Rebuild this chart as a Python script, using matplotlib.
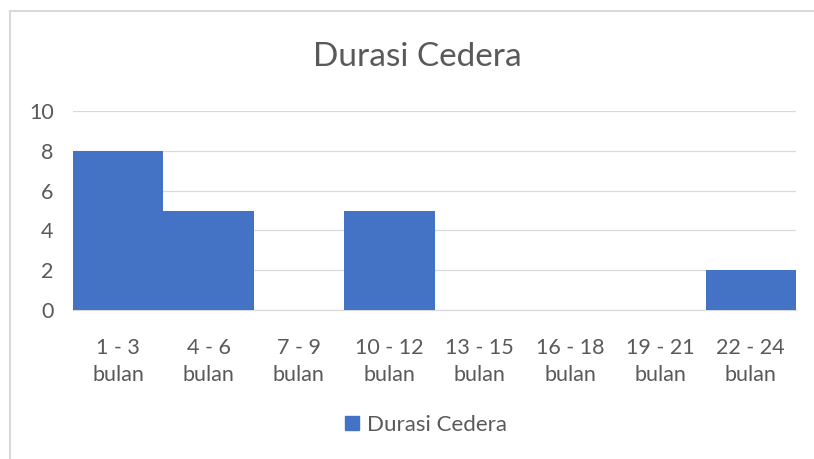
import numpy as np
import matplotlib.pyplot as plt
from matplotlib.patches import Rectangle
from matplotlib.lines import Line2D

plt.rcParams['font.family'] = ['Lato', 'DejaVu Sans']

categories = ['1 - 3\nbulan', '4 - 6\nbulan', '7 - 9\nbulan', '10 - 12\nbulan',
              '13 - 15\nbulan', '16 - 18\nbulan', '19 - 21\nbulan', '22 - 24\nbulan']
values = [8, 5, 0, 5, 0, 0, 0, 2]
series_name = 'Durasi Cedera'

grey = '#595959'
bar_color = '#4472C4'

fig = plt.figure(figsize=(8.14, 4.59), dpi=100)
ax = fig.add_axes([73/814, 1 - 310/459, 723/814, 199/459])

x = np.arange(len(categories))
ax.bar(x, values, width=1.0, color=bar_color, label=series_name, zorder=3)

ax.set_xlim(-0.5, len(categories) - 0.5)
ax.set_ylim(0, 10)
ax.set_yticks(range(0, 11, 2))
ax.set_xticks(x)
ax.set_xticklabels(categories, linespacing=1.45)
ax.tick_params(axis='both', length=0, colors=grey, labelsize=15.5)
ax.tick_params(axis='x', pad=20)
ax.tick_params(axis='y', pad=14)
for lbl in ax.get_yticklabels():
    lbl.set_horizontalalignment('right')
ax.grid(axis='y', color='#D9D9D9', linewidth=0.9, zorder=0)
for s in ['top', 'right', 'left']:
    ax.spines[s].set_visible(False)
ax.spines['bottom'].set_color('#D9D9D9')
ax.spines['bottom'].set_linewidth(0.9)

fig.text(417/814, 1 - 57/459, 'Durasi Cedera', ha='center', va='center',
         fontsize=24, color=grey)

fig.legend(handles=[Rectangle((0, 0), 1, 1, color=bar_color)], labels=[series_name],
           loc='center', bbox_to_anchor=(426/814, 1 - 425/459), frameon=False,
           fontsize=16, labelcolor=grey, handlelength=0.6, handleheight=0.6,
           handletextpad=0.35)

# chart frame
fig.add_artist(Line2D([10/814, 10/814], [0, 1 - 11/459], color='#D9D9D9', linewidth=1.5))
fig.add_artist(Line2D([10/814, 1], [1 - 11/459, 1 - 11/459], color='#D9D9D9', linewidth=1.5))

fig.savefig('out.png', dpi=100)
